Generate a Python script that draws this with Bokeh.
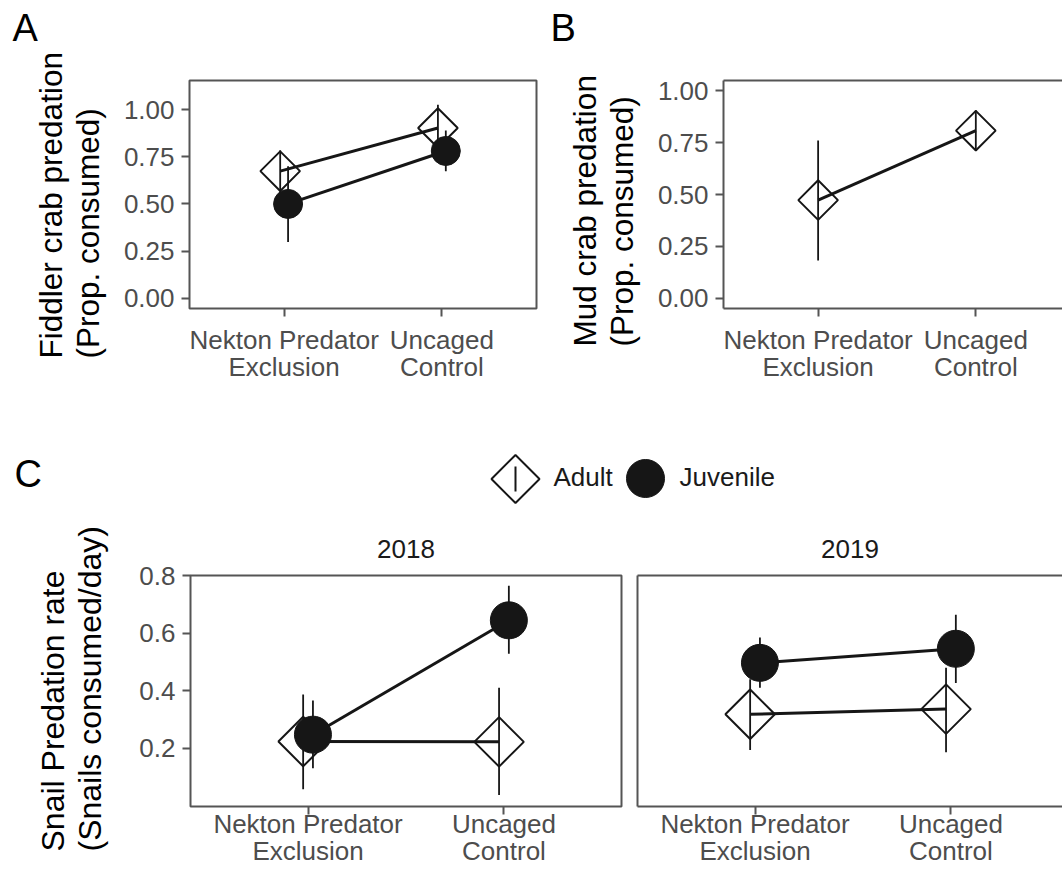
import math
from bokeh.plotting import figure
from bokeh.models import Range1d, FixedTicker, LinearAxis, PrintfTickFormatter, Title
from bokeh.layouts import column, row
from bokeh.embed import file_html
from bokeh.resources import INLINE
from bokeh.core.properties import value

# ---------------- data ----------------
treatment_pos = [1, 2]
treatment_line1 = ["Nekton Predator", "Uncaged"]
treatment_line2 = ["Exclusion", "Control"]

fiddler_adult_mean = [0.674, 0.903]
fiddler_adult_low = [0.563, 0.780]
fiddler_adult_high = [0.785, 1.026]
fiddler_juv_mean = [0.500, 0.781]
fiddler_juv_low = [0.298, 0.674]
fiddler_juv_high = [0.700, 0.890]

mud_adult_mean = [0.473, 0.808]
mud_adult_low = [0.181, 0.713]
mud_adult_high = [0.760, 0.907]

snail2018_adult_mean = [0.223, 0.222]
snail2018_adult_low = [0.057, 0.037]
snail2018_adult_high = [0.387, 0.410]
snail2018_juv_mean = [0.247, 0.645]
snail2018_juv_low = [0.130, 0.529]
snail2018_juv_high = [0.366, 0.765]

snail2019_adult_mean = [0.318, 0.336]
snail2019_adult_low = [0.194, 0.186]
snail2019_adult_high = [0.440, 0.480]
snail2019_juv_mean = [0.497, 0.546]
snail2019_juv_low = [0.410, 0.427]
snail2019_juv_high = [0.585, 0.664]

prop_ticks = [0.0, 0.25, 0.5, 0.75, 1.0]
rate_ticks = [0.2, 0.4, 0.6, 0.8]

# ---------------- style ----------------
FONT = "Liberation Sans"
INK = "#161616"
FRAME = "#555555"
TICKTXT = "#4D4D4D"
TITLE = "#000000"
DODGE = 0.025
TICK_PX = 26


def make_fig(g, yticks, yfmt, xlab_standoff):
    p = figure(width=g["width"], height=g["height"],
               x_range=Range1d(g["x0"], g["x1"]), y_range=Range1d(g["y0"], g["y1"]),
               output_backend="svg", toolbar_location=None,
               min_border_left=g["L"] - g["left"],
               min_border_right=g["left"] + g["width"] - g["R"],
               min_border_top=g["T"] - g["top"],
               min_border_bottom=g["top"] + g["height"] - g["B"])
    p.xgrid.visible = False
    p.ygrid.visible = False
    p.background_fill_color = "white"
    p.border_fill_color = "white"
    xa = p.below[0]
    ya = p.left[0]
    xa.ticker = FixedTicker(ticks=treatment_pos)
    xa.major_label_overrides = {pos: a + "\n" + b for pos, a, b in
                                zip(treatment_pos, treatment_line1, treatment_line2)}
    xa.major_label_text_font = FONT
    xa.major_label_text_font_size = f"{TICK_PX}px"
    xa.major_label_text_color = TICKTXT
    xa.major_label_text_line_height = 0.9
    xa.major_label_standoff = xlab_standoff
    xa.major_tick_out = 8
    xa.major_tick_in = 0
    xa.minor_tick_out = 0
    xa.minor_tick_in = 0
    xa.major_tick_line_color = FRAME
    xa.major_tick_line_width = 2
    if yticks:
        ya.ticker = FixedTicker(ticks=yticks)
        ya.formatter = PrintfTickFormatter(format=yfmt)
        ya.major_label_text_font = FONT
        ya.major_label_text_font_size = f"{TICK_PX}px"
        ya.major_label_text_color = TICKTXT
        ya.major_label_standoff = 7
        ya.major_tick_out = 8
        ya.major_tick_in = 0
        ya.major_tick_line_color = FRAME
        ya.major_tick_line_width = 2
    else:
        ya.ticker = FixedTicker(ticks=[])
        ya.major_label_standoff = 0
        ya.major_tick_out = 0
        ya.major_tick_in = 0
    ya.minor_tick_out = 0
    ya.minor_tick_in = 0
    if g["box"]:
        p.outline_line_color = FRAME
        p.outline_line_width = 2
        xa.axis_line_color = None
        ya.axis_line_color = None
    else:
        p.outline_line_color = None
        xa.axis_line_color = FRAME
        xa.axis_line_width = 2
        ya.axis_line_color = FRAME
        ya.axis_line_width = 2
        top = LinearAxis(ticker=FixedTicker(ticks=[]), axis_line_color=FRAME, axis_line_width=2,
                         major_tick_out=0, major_tick_in=0,
                         minor_tick_out=0, minor_tick_in=0, major_label_standoff=0)
        p.add_layout(top, "above")
    return p


def set_strip(p, text, standoff):
    p.title.text = text
    p.title.text_font = FONT
    p.title.text_font_size = "26px"
    p.title.text_font_style = "normal"
    p.title.text_color = "#1A1A1A"
    p.title.align = "center"
    p.title.standoff = standoff


def add_ytitle(p, g, line1, line2, start_py, standoff, size):
    p.add_layout(Title(text=line1 + "\n" + line2, align="left", offset=-(start_py - g["B"]),
                       standoff=standoff, text_font=FONT, text_font_size=f"{size}px",
                       text_font_style="normal", text_color=TITLE, text_line_height=1.03), "left")


def draw_groups(p, groups, diamond_size, circle_size):
    # groups: list of (kind, offset, mean, low, high)
    for kind, off, mean, low, high in groups:
        xs = [x + off for x in treatment_pos]
        p.line(xs, mean, line_width=3, line_color=INK)
    for kind, off, mean, low, high in groups:
        xs = [x + off for x in treatment_pos]
        p.segment(x0=xs, y0=low, x1=xs, y1=high, line_width=1.8, line_color=INK)
    for kind, off, mean, low, high in groups:
        xs = [x + off for x in treatment_pos]
        if kind == "Adult":
            p.scatter(xs, mean, marker="square", angle=math.pi / 4, size=diamond_size,
                      fill_color=None, line_color=INK, line_width=2)
        else:
            p.scatter(xs, mean, marker="circle", size=circle_size,
                      fill_color=INK, line_color=INK, line_width=1)


def strip_fig(top, height):
    f = figure(width=1062, height=height, x_range=Range1d(0, 1062), y_range=Range1d(top + height, top),
               output_backend="svg", toolbar_location=None, x_axis_type=None, y_axis_type=None,
               min_border=0, min_border_left=0, min_border_right=0, min_border_top=0, min_border_bottom=0)
    f.xgrid.visible = False
    f.ygrid.visible = False
    f.outline_line_color = None
    return f


BASE_SHIFT = 0.39  # em; compensation for glyph text anchoring


def put_text(f, x, baseline, text, size, color):
    f.text(x=[x], y=[baseline - BASE_SHIFT * size], text=[text], text_font=value(FONT),
           text_font_size=f"{size}px", text_color=color, text_align="left",
           text_baseline="alphabetic")


# ---------------- panel letters A, B ----------------
top_strip = strip_fig(0, 51)
put_text(top_strip, 12, 42, "A", 38, TITLE)
put_text(top_strip, 550, 42.5, "B", 38, TITLE)

# ---------------- panel A ----------------
gA = dict(left=0, top=51, width=540, height=349, L=189, R=536, T=80, B=308,
          x0=0.4, x1=2.6, y0=-0.055, y1=1.155, box=True)
pA = make_fig(gA, prop_ticks, "%.2f", 8)
draw_groups(pA, [("Adult", -DODGE, fiddler_adult_mean, fiddler_adult_low, fiddler_adult_high),
                 ("Juvenile", DODGE, fiddler_juv_mean, fiddler_juv_low, fiddler_juv_high)], 28, 29)
add_ytitle(pA, gA, "Fiddler crab predation", "(Prop. consumed)", 358, 29, 31.5)

# ---------------- panel B ----------------
gB = dict(left=540, top=51, width=522, height=349, L=723, R=1062, T=80, B=308,
          x0=0.4, x1=0.4 + 339 / 157.7, y0=-0.05, y1=1.05, box=False)
pB = make_fig(gB, prop_ticks, "%.2f", 8)
draw_groups(pB, [("Adult", 0.0, mud_adult_mean, mud_adult_low, mud_adult_high)], 28, 29)
add_ytitle(pB, gB, "Mud crab predation", "(Prop. consumed)", 346, 29, 31.5)

# ---------------- legend strip with panel letter C ----------------
leg = strip_fig(400, 105)
put_text(leg, 14, 488, "C", 38, TITLE)
leg.segment(x0=[515], y0=[466], x1=[515], y1=[491], line_width=2, line_color=INK)
leg.scatter([515], [478.5], marker="square", angle=math.pi / 4, size=34,
            fill_color=None, line_color=INK, line_width=2)
put_text(leg, 553, 487, "Adult", 26, "#1A1A1A")
leg.scatter([645], [478], marker="circle", size=38, fill_color=INK, line_color=INK)
put_text(leg, 679, 487, "Juvenile", 26, "#1A1A1A")

# ---------------- panel C (2018, 2019) ----------------
gC1 = dict(left=0, top=505, width=629, height=364, L=190, R=621, T=575, B=806,
           x0=0.4, x1=2.6, y0=-0.003, y1=0.801, box=True)
pC1 = make_fig(gC1, rate_ticks, "%.1f", -6)
draw_groups(pC1, [("Adult", -DODGE, snail2018_adult_mean, snail2018_adult_low, snail2018_adult_high),
                  ("Juvenile", DODGE, snail2018_juv_mean, snail2018_juv_low, snail2018_juv_high)], 35, 37)
set_strip(pC1, "2018", 35)
add_ytitle(pC1, gC1, "Snail Predation rate", "(Snails consumed/day)", 851, 56, 32)

gC2 = dict(left=629, top=505, width=433, height=364, L=637, R=1062, T=575, B=806,
           x0=0.4, x1=0.4 + 425 / 195.9, y0=-0.003, y1=0.801, box=False)
pC2 = make_fig(gC2, None, None, -6)
draw_groups(pC2, [("Adult", -DODGE, snail2019_adult_mean, snail2019_adult_low, snail2019_adult_high),
                  ("Juvenile", DODGE, snail2019_juv_mean, snail2019_juv_low, snail2019_juv_high)], 35, 37)
set_strip(pC2, "2019", 35)

layout = column(top_strip, row(pA, pB), leg, row(pC1, pC2))
open("out.html", "w").write(file_html(layout, INLINE))
